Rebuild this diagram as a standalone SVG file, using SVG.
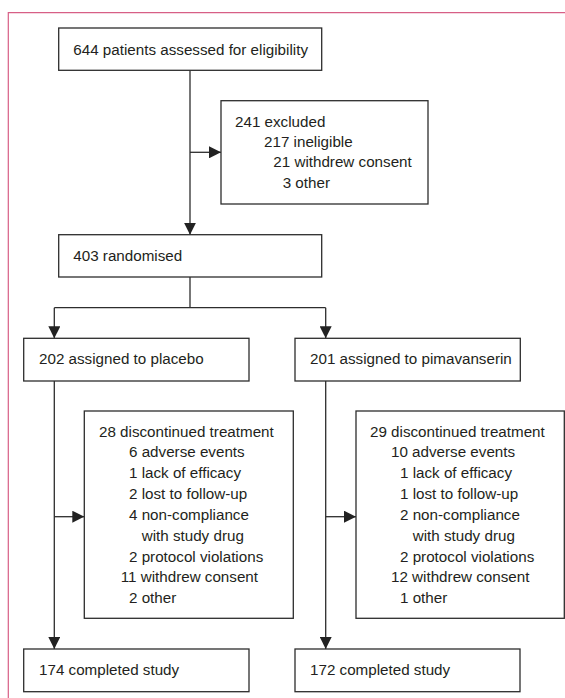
<svg xmlns="http://www.w3.org/2000/svg" width="565" height="698" viewBox="0 0 565 698">
<style>
.box{fill:#fff;stroke:#2d2d2d;stroke-width:1.3}
.t{font-family:"Liberation Sans",Arial,sans-serif;font-size:15.2px;fill:#231f20}
.c{fill:none;stroke:#2d2d2d;stroke-width:1.3}
.frame{fill:none;stroke:#d75f86;stroke-width:1.2}
</style>
<defs>
<marker id="ah" markerUnits="userSpaceOnUse" markerWidth="12" markerHeight="12" viewBox="0 0 12 12" refX="12" refY="6" orient="auto">
<path d="M0,0 L12,6 L0,12 Z" fill="#222"/>
</marker>
</defs>
<path class="frame" d="M565,12.7 H8.3 V698"/>
<g id="connectors">
<path class="c" d="M190,70.3 V234.7" marker-end="url(#ah)"/>
<path class="c" d="M190,152.3 H221" marker-end="url(#ah)"/>
<path class="c" d="M190,277 V307.7"/>
<path class="c" d="M54.3,307.7 H325.7"/>
<path class="c" d="M54.3,307.7 V338.3" marker-end="url(#ah)"/>
<path class="c" d="M325.7,307.7 V338.3" marker-end="url(#ah)"/>
<path class="c" d="M54.3,381 V649" marker-end="url(#ah)"/>
<path class="c" d="M54.3,516.7 H84.3" marker-end="url(#ah)"/>
<path class="c" d="M325.7,381 V649" marker-end="url(#ah)"/>
<path class="c" d="M325.7,516.7 H356" marker-end="url(#ah)"/>
</g>
<g id="assessed">
<rect class="box" x="58.7" y="28" width="263" height="42.3"/>
<text class="t" x="73.3" y="55">644 patients assessed for eligibility</text>
</g>
<g id="excluded">
<rect class="box" x="221" y="100.7" width="207" height="103.3"/>
<text class="t" x="235" y="126.7">241 excluded</text>
<text class="t" x="264" y="147.3">217 ineligible</text>
<text class="t" x="273.3" y="167.3">21 withdrew consent</text>
<text class="t" x="282.7" y="188.3">3 other</text>
</g>
<g id="randomised">
<rect class="box" x="58.7" y="234.7" width="263" height="42.3"/>
<text class="t" x="73.3" y="261">403 randomised</text>
</g>
<g id="placebo">
<rect class="box" x="23.7" y="338.3" width="225.3" height="42.7"/>
<text class="t" x="39" y="364">202 assigned to placebo</text>
</g>
<g id="pimavanserin">
<rect class="box" x="295" y="338.3" width="225.3" height="42.7"/>
<text class="t" x="310" y="364">201 assigned to pimavanserin</text>
</g>
<g id="disc-placebo">
<rect class="box" x="84.3" y="411" width="209" height="207.3"/>
<text class="t" x="99" y="436.7">28 discontinued treatment</text>
<text class="t" x="129" y="457.3">6 adverse events</text>
<text class="t" x="129" y="478.3">1 lack of efficacy</text>
<text class="t" x="129" y="499">2 lost to follow-up</text>
<text class="t" x="129" y="520">4 non-compliance</text>
<text class="t" x="141.7" y="540.7">with study drug</text>
<text class="t" x="129" y="561.7">2 protocol violations</text>
<text class="t" x="120.7" y="582.3">11 withdrew consent</text>
<text class="t" x="129" y="602.7">2 other</text>
</g>
<g id="disc-pimavanserin">
<rect class="box" x="356" y="411" width="208.3" height="207.3"/>
<text class="t" x="370" y="436.7">29 discontinued treatment</text>
<text class="t" x="391" y="457.3">10 adverse events</text>
<text class="t" x="400" y="478.3">1 lack of efficacy</text>
<text class="t" x="400" y="499">1 lost to follow-up</text>
<text class="t" x="400" y="520">2 non-compliance</text>
<text class="t" x="412.7" y="540.7">with study drug</text>
<text class="t" x="400" y="561.7">2 protocol violations</text>
<text class="t" x="391" y="582.3">12 withdrew consent</text>
<text class="t" x="400" y="602.7">1 other</text>
</g>
<g id="completed-placebo">
<rect class="box" x="23.7" y="649" width="225.3" height="42.7"/>
<text class="t" x="39" y="675">174 completed study</text>
</g>
<g id="completed-pimavanserin">
<rect class="box" x="295" y="649" width="225" height="42.7"/>
<text class="t" x="310" y="675">172 completed study</text>
</g>
</svg>
